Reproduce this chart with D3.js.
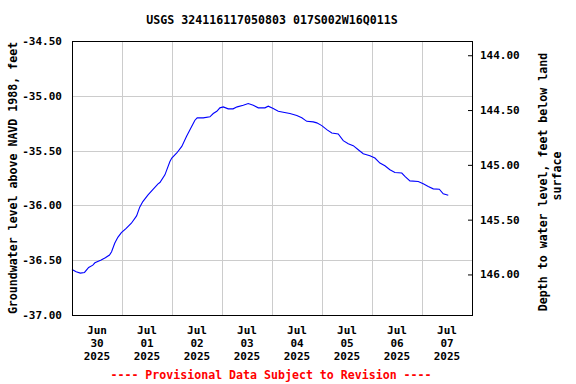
<!DOCTYPE html>
<html>
<head>
<meta charset="utf-8">
<script src="https://cdn.jsdelivr.net/npm/d3@7"></script>
<style>
  html, body { margin: 0; padding: 0; background: #fff; }
  svg { display: block; }
  text { font-family: "DejaVu Sans Mono", "Liberation Mono", monospace; font-weight: bold; }
</style>
</head>
<body>
<svg id="chart" width="576" height="384"></svg>
<script>
// ---- Data ----
const title = "USGS 324116117050803 017S002W16Q011S";
const footer = "---- Provisional Data Subject to Revision ----";
const leftLabel = "Groundwater level above NAVD 1988, feet";
const rightLabel = ["Depth to water level, feet below land", "surface"];
const startTime = "2025-06-30T00:00:00";
const endTime = "2025-07-08T00:00:00";
const landSurface = 109.37; // depth = landSurface - level

// hours since start
const hours = [0, 2, 4, 6, 8, 10, 11, 14, 16, 18, 19, 20.5, 22, 23.7, 26, 28.5, 31, 32.5, 34, 36.5,
  39, 41.3, 42.2, 44.6, 47, 47.9, 50.3, 52.7, 55, 57.5, 59, 60.1, 63, 66.2, 67.8, 69.5, 71, 72.6,
  75, 77.3, 79.3, 82.2, 84.6, 87, 89.4, 92.6, 94.2, 96.6, 99, 101.4, 104.6, 107.9, 110.3, 112.7,
  115.8, 117.5, 119.9, 122.3, 124.7, 127.8, 130.2, 132.6, 135, 137.4, 139.8, 143, 145.4, 147.8,
  150.2, 152.6, 155, 158.3, 159.8, 162.2, 166.2, 168.6, 171, 173.4, 176.3, 178.2, 180.6];
const levels = [-36.584, -36.606, -36.618, -36.612, -36.566, -36.545, -36.524, -36.499, -36.478, -36.453,
  -36.423, -36.346, -36.291, -36.249, -36.209, -36.163, -36.096, -36.016, -35.965, -35.904,
  -35.852, -35.803, -35.791, -35.721, -35.599, -35.568, -35.522, -35.462, -35.370, -35.278,
  -35.223, -35.201, -35.201, -35.192, -35.162, -35.141, -35.110, -35.101, -35.119, -35.119,
  -35.101, -35.086, -35.071, -35.086, -35.110, -35.110, -35.095, -35.116, -35.141, -35.150,
  -35.162, -35.180, -35.201, -35.233, -35.238, -35.247, -35.272, -35.309, -35.339, -35.348,
  -35.409, -35.437, -35.455, -35.492, -35.528, -35.547, -35.568, -35.614, -35.638, -35.675,
  -35.700, -35.705, -35.736, -35.776, -35.782, -35.803, -35.828, -35.849, -35.852, -35.895, -35.908];

const leftTicks = [-34.5, -35.0, -35.5, -36.0, -36.5, -37.0];
const rightTicks = [144.0, 144.5, 145.0, 145.5, 146.0];
const xTickDays = ["2025-06-30", "2025-07-01", "2025-07-02", "2025-07-03", "2025-07-04", "2025-07-05", "2025-07-06", "2025-07-07"];

// ---- Layout ----
const svg = d3.select("#chart");
const m = { left: 72, right: 472, top: 41, bottom: 315 };
const t0 = new Date(startTime), t1 = new Date(endTime);
const data = hours.map((h, i) => ({ t: new Date(t0.getTime() + h * 3600e3), v: levels[i] }));

const x = d3.scaleTime().domain([t0, t1]).range([m.left, m.right]);
const y = d3.scaleLinear().domain([-37, -34.5]).range([m.bottom, m.top]);
const y2 = d3.scaleLinear().domain([landSurface + 34.5, landSurface + 37]).range([m.top, m.bottom]);

// grid
const gridDays = d3.timeDay.range(t0, t1).slice(1);
svg.append("g").selectAll("line").data(gridDays).join("line")
  .attr("x1", d => Math.round(x(d)) + 0.5).attr("x2", d => Math.round(x(d)) + 0.5)
  .attr("y1", m.top).attr("y2", m.bottom)
  .attr("stroke", "#cccccc").attr("stroke-width", 1);
svg.append("g").selectAll("line").data(leftTicks.slice(1, -1)).join("line")
  .attr("x1", m.left).attr("x2", m.right)
  .attr("y1", d => Math.round(y(d)) + 0.5).attr("y2", d => Math.round(y(d)) + 0.5)
  .attr("stroke", "#cccccc").attr("stroke-width", 1);

// line
svg.append("path").datum(data)
  .attr("d", d3.line().x(d => x(d.t)).y(d => y(d.v)))
  .attr("fill", "none").attr("stroke", "#0000ff").attr("stroke-width", 1.1);

// frame
svg.append("rect").attr("x", m.left + 0.5).attr("y", m.top + 0.5)
  .attr("width", m.right - m.left).attr("height", m.bottom - m.top)
  .attr("fill", "none").attr("stroke", "#000").attr("stroke-width", 1);

// left axis
const fmt = d3.format(".2f");
const leftAxis = d3.axisLeft(y).tickValues(leftTicks).tickFormat(d => fmt(d).replace("−", "-")).tickSize(0).tickPadding(10);
const gl = svg.append("g").attr("transform", `translate(${m.left},0)`).call(leftAxis);
gl.select(".domain").remove();
gl.selectAll("text").attr("font-size", 11).attr("fill", "#000")
  .style("font-family", '"DejaVu Sans Mono", monospace').style("font-weight", "bold");

// right axis
const rightAxis = d3.axisLeft(y2).tickValues(rightTicks).tickFormat(fmt).tickSize(4);
const gr = svg.append("g").attr("transform", `translate(${m.right},0)`).call(rightAxis);
gr.select(".domain").remove();
gr.selectAll("line").attr("stroke", "#000");
gr.selectAll("text").attr("x", 8).attr("text-anchor", "start").attr("font-size", 11).attr("fill", "#000")
  .style("font-family", '"DejaVu Sans Mono", monospace').style("font-weight", "bold");

// x labels
const parseDay = d3.timeParse("%Y-%m-%d");
const fmtMon = d3.timeFormat("%b"), fmtDay = d3.timeFormat("%d"), fmtYr = d3.timeFormat("%Y");
const xl = svg.append("g").selectAll("text").data(xTickDays.map(parseDay)).join("text")
  .attr("x", d => x(d3.timeHour.offset(d, 12)))
  .attr("text-anchor", "middle").attr("font-size", 11).attr("fill", "#000");
xl.append("tspan").attr("x", d => x(d3.timeHour.offset(d, 12))).attr("y", 334).text(d => fmtMon(d));
xl.append("tspan").attr("x", d => x(d3.timeHour.offset(d, 12))).attr("y", 347).text(d => fmtDay(d));
xl.append("tspan").attr("x", d => x(d3.timeHour.offset(d, 12))).attr("y", 360).text(d => fmtYr(d));

// title
svg.append("text").attr("x", (m.left + m.right) / 2).attr("y", 24).attr("text-anchor", "middle")
  .attr("font-size", 11.6).attr("fill", "#000").text(title);

// footer
svg.append("text").attr("x", (m.left + m.right) / 2 - 1).attr("y", 379).attr("text-anchor", "middle")
  .attr("font-size", 11.6).attr("fill", "#ff0000").text(footer);

// left label
svg.append("text").attr("transform", `translate(17,${(m.top + m.bottom) / 2}) rotate(-90)`)
  .attr("text-anchor", "middle").attr("font-size", 11.6).attr("fill", "#000").text(leftLabel);

// right label
svg.append("text").attr("transform", `translate(547,${(m.top + m.bottom) / 2 + 4}) rotate(-90)`)
  .attr("text-anchor", "middle").attr("font-size", 11.6).attr("fill", "#000").text(rightLabel[0]);
svg.append("text").attr("transform", `translate(561,${(m.top + m.bottom) / 2 - 2}) rotate(-90)`)
  .attr("text-anchor", "middle").attr("font-size", 11.6).attr("fill", "#000").text(rightLabel[1]);
</script>
</body>
</html>
